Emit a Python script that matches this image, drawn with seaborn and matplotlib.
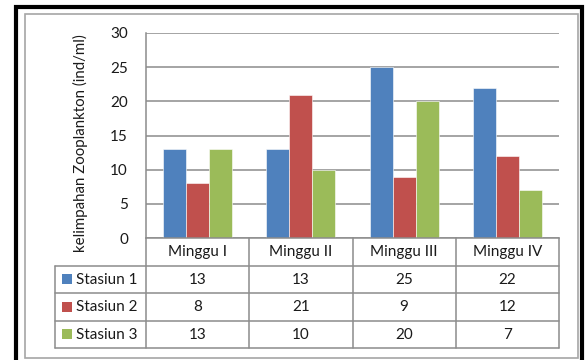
import numpy as np
import pandas as pd
import matplotlib
matplotlib.use("Agg")
import matplotlib.pyplot as plt
from matplotlib.patches import Rectangle
import seaborn as sns

# data
weeks = ["Minggu I", "Minggu II", "Minggu III", "Minggu IV"]
stations = ["Stasiun 1", "Stasiun 2", "Stasiun 3"]
stasiun_1 = [13, 13, 25, 22]
stasiun_2 = [8, 21, 9, 12]
stasiun_3 = [13, 10, 20, 7]
y_ticks = [0, 5, 10, 15, 20, 25, 30]
y_label = "kelimpahan Zooplankton (ind/ml)"
colors = ["#4F81BD", "#C0504D", "#9BBB59"]

series = [stasiun_1, stasiun_2, stasiun_3]
df = pd.DataFrame({
    "week": weeks * 3,
    "station": [s for s in stations for _ in weeks],
    "value": stasiun_1 + stasiun_2 + stasiun_3,
})

sns.set_style("white")
plt.rcParams['font.family'] = ['Lato', 'DejaVu Sans']

W, H = 587, 360
fig = plt.figure(figsize=(W / 100, H / 100), dpi=100)

def fx(px):
    return px / W

def fy(px):
    return 1 - px / H

grid_col = "#8C8C8C"
text_col = "#1A1A1A"

# frames round the chart
fig.patches.append(Rectangle((fx(16), fy(372)), fx(566), 365 / H,
                             transform=fig.transFigure, fill=False,
                             edgecolor="black", linewidth=3))
fig.patches.append(Rectangle((fx(25), fy(358)), fx(553), 344 / H,
                             transform=fig.transFigure, fill=False,
                             edgecolor="#A6A6A6", linewidth=1.2))

# bar plot
x0, x1, ytop, ybot = 146, 559, 33, 238
ax = fig.add_axes([fx(x0), fy(ybot), fx(x1 - x0), (ybot - ytop) / H])
sns.barplot(data=df, x="week", y="value", hue="station", palette=colors,
            width=0.67, ax=ax, legend=False, saturation=1,
            edgecolor="white", linewidth=0.4)
ax.set_xlim(-0.5, len(weeks) - 0.5)
ax.set_ylim(0, 30)
ax.set_yticks(y_ticks)
ax.set_yticklabels([str(t) for t in y_ticks], fontsize=11, color=text_col)
ax.set_xticks([])
ax.set_xlabel("")
ax.set_ylabel("")
ax.tick_params(axis="y", length=0, pad=13)
ax.yaxis.grid(True, color=grid_col, linewidth=1.1)
ax.set_axisbelow(True)
for s in ["top", "right"]:
    ax.spines[s].set_visible(False)
for s in ["left", "bottom"]:
    ax.spines[s].set_color(grid_col)
    ax.spines[s].set_linewidth(1.1)

fig.text(fx(80), fy(143), y_label, rotation=90, ha="center", va="center",
         fontsize=10.8, color=text_col)

# data table below the axis
tleft, tbot = 55, 348
unit = (x1 - x0) / len(weeks)
tab = fig.add_axes([fx(tleft), fy(tbot), fx(x1 - tleft), (tbot - ybot) / H])
tab.set_xlim(-0.5 - (x0 - tleft) / unit, len(weeks) - 0.5)
tab.set_ylim(len(stations) + 1, 0)
tab.axis("off")
lx = tab.get_xlim()[0]
lw = 1.1
for r in range(1, len(stations) + 2):
    tab.plot([lx, len(weeks) - 0.5], [r, r], color=grid_col, lw=lw, clip_on=False)
tab.plot([lx, lx], [1, len(stations) + 1], color=grid_col, lw=lw, clip_on=False)
for c in range(len(weeks) + 1):
    tab.plot([c - 0.5, c - 0.5], [0, len(stations) + 1], color=grid_col, lw=lw,
             clip_on=False)
for i, w in enumerate(weeks):
    tab.text(i, 0.52, w, ha="center", va="center", fontsize=11, color=text_col)
for r, (name, vals) in enumerate(zip(stations, series)):
    yy = r + 1.5
    tab.add_patch(Rectangle((lx + 0.07, yy - 0.18), 0.095, 0.36,
                            facecolor=colors[r], edgecolor="none"))
    tab.text(lx + 0.2, yy + 0.02, name, ha="left", va="center", fontsize=11,
             color=text_col)
    for i, v in enumerate(vals):
        tab.text(i, yy + 0.02, str(v), ha="center", va="center", fontsize=11,
                 color=text_col)

fig.savefig("out.png", dpi=100)
